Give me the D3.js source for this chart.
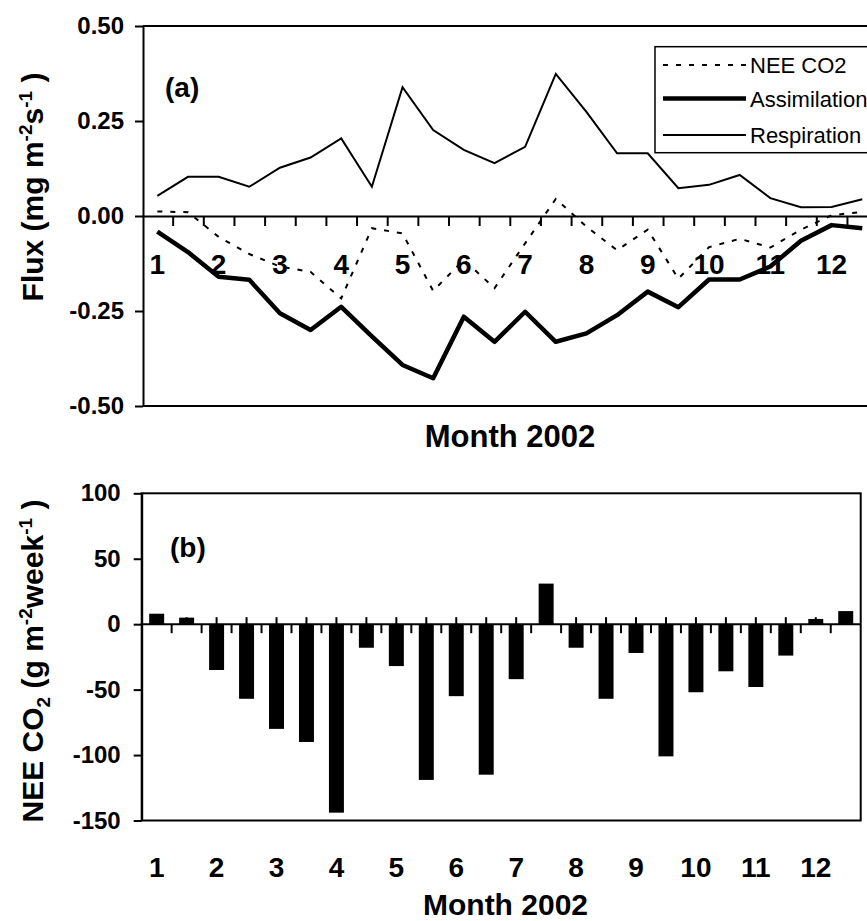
<!DOCTYPE html>
<html><head><meta charset="utf-8">
<script src="https://cdn.jsdelivr.net/npm/d3@7"></script>
<style>
body{margin:0;background:#fff}
svg{display:block}
text{font-family:"Liberation Sans",Arial,Helvetica,sans-serif;fill:#000}
</style>
</head><body>
<svg id="c" width="867" height="921"></svg>
<script>
// ---- data (half-month steps, Jan 2002 .. Dec 2002) ----
const monthLabels = ["1","2","3","4","5","6","7","8","9","10","11","12"];
const respiration = [0.053,0.103,0.103,0.077,0.127,0.154,0.204,0.077,0.339,0.226,0.174,0.139,0.182,0.374,0.274,0.165,0.165,0.073,0.082,0.108,0.047,0.023,0.024,0.044];
const assimilation = [-0.041,-0.095,-0.160,-0.168,-0.256,-0.300,-0.239,-0.317,-0.392,-0.427,-0.265,-0.331,-0.252,-0.331,-0.309,-0.261,-0.199,-0.240,-0.167,-0.167,-0.133,-0.065,-0.024,-0.032];
const neeFlux = [0.012,0.010,-0.055,-0.100,-0.133,-0.147,-0.217,-0.032,-0.046,-0.197,-0.115,-0.190,-0.072,0.045,-0.028,-0.090,-0.036,-0.165,-0.082,-0.060,-0.083,-0.036,0.002,0.011];
const weeklyNEE = [8,5,-35,-57,-80,-90,-144,-18,-32,-119,-55,-115,-42,31,-18,-57,-22,-101,-52,-36,-48,-24,4,10];
const yTicksA = [-0.5,-0.25,0,0.25,0.5];
const yTicksB = [-150,-100,-50,0,50,100];
const legendItems = ["NEE CO2","Assimilation","Respiration"];

const svg = d3.select("#c");
const F = "bold";

// ================= Panel (a) =================
const nA = respiration.length;
const xA = d3.scaleLinear().domain([0, nA]).range([142, 877.6]);
const yA = d3.scaleLinear().domain([-0.5, 0.5]).range([406, 26]);
const gA = svg.append("g");

// frame lines top/bottom
[0.5, -0.5].forEach(v => gA.append("line").attr("x1",143).attr("x2",870)
  .attr("y1",yA(v)).attr("y2",yA(v)).attr("stroke","#000").attr("stroke-width",2));

// y axis
const ayA = gA.append("g").attr("transform","translate(143,0)")
  .call(d3.axisLeft(yA).tickValues(yTicksA).tickSize(8).tickSizeOuter(0).tickPadding(11)
    .tickFormat(d => d3.format(".2f")(d).replace("−","-")));
ayA.selectAll("path,line").attr("stroke","#000").attr("stroke-width",2);
ayA.selectAll("text").attr("font-size",24).attr("font-weight",F)
  .attr("font-family",'"Liberation Sans",Arial,sans-serif');

// zero axis with half-month ticks
const axA = gA.append("g").attr("transform",`translate(0,${yA(0)})`)
  .call(d3.axisBottom(xA).tickValues(d3.range(1, nA)).tickSize(10).tickSizeOuter(0).tickFormat(""));
axA.selectAll("path,line").attr("stroke","#000").attr("stroke-width",2);

// month labels inside plot
gA.selectAll("text.ml").data(monthLabels).enter().append("text").attr("class","ml")
  .attr("x",(d,i)=>xA(2*i+0.5)).attr("y",274).attr("text-anchor","middle")
  .attr("font-size",28).attr("font-weight",F).text(d=>d);

const lineA = d3.line().x((d,i)=>xA(i+0.5)).y(d=>yA(d));
gA.append("path").datum(respiration).attr("d",lineA).attr("fill","none")
  .attr("stroke","#000").attr("stroke-width",2);
gA.append("path").datum(neeFlux).attr("d",lineA).attr("fill","none")
  .attr("stroke","#000").attr("stroke-width",2).attr("stroke-dasharray","5,8");
gA.append("path").datum(assimilation).attr("d",lineA).attr("fill","none")
  .attr("stroke","#000").attr("stroke-width",4.5).attr("stroke-linejoin","round");

// (a) label
gA.append("text").attr("x",165).attr("y",97).attr("font-size",28).attr("font-weight",F).text("(a)");

// legend
const lg = gA.append("g");
lg.append("rect").attr("x",655).attr("y",46.7).attr("width",240).attr("height",106)
  .attr("fill","#fff").attr("stroke","#000").attr("stroke-width",1.5);
const legStyles = [{w:2,dash:"5,8"},{w:4.5,dash:null},{w:2,dash:null}];
const legY = [65,98.5,135];
legendItems.forEach((t,i)=>{
  lg.append("line").attr("x1",663).attr("x2",746).attr("y1",legY[i]).attr("y2",legY[i])
    .attr("stroke","#000").attr("stroke-width",legStyles[i].w)
    .attr("stroke-dasharray",legStyles[i].dash);
  lg.append("text").attr("x",750).attr("y",legY[i]+8).attr("font-size",22).text(t);
});

// axis titles (a)
const tA = gA.append("text").attr("transform","translate(43,187) rotate(-90)")
  .attr("text-anchor","middle").attr("font-size",30).attr("font-weight",F);
tA.append("tspan").text("Flux (mg m");
tA.append("tspan").attr("font-size",19).attr("dy",-11).text("-2");
tA.append("tspan").attr("dy",11).text("s");
tA.append("tspan").attr("font-size",19).attr("dy",-11).text("-1");
tA.append("tspan").attr("dy",11).text(" )");
gA.append("text").attr("x",510).attr("y",447).attr("text-anchor","middle")
  .attr("font-size",31).attr("font-weight",F).text("Month 2002");

// ================= Panel (b) =================
const nB = weeklyNEE.length;
const xB = d3.scaleBand().domain(d3.range(nB)).range([141.7, 860.7]).paddingInner(0.5).paddingOuter(0.25);
const yB = d3.scaleLinear().domain([-150, 100]).range([820.5, 493.3]);
const step = xB.step();
const gB = svg.append("g");

gB.append("rect").attr("x",141.7).attr("y",493.3).attr("width",719).attr("height",327.2)
  .attr("fill","none").attr("stroke","#000").attr("stroke-width",2);

const ayB = gB.append("g").attr("transform","translate(141.7,0)")
  .call(d3.axisLeft(yB).tickValues(yTicksB).tickSize(8).tickSizeOuter(0).tickPadding(13)
    .tickFormat(d => String(d)));
ayB.selectAll("path,line").attr("stroke","#000").attr("stroke-width",2);
ayB.selectAll("text").attr("font-size",24).attr("font-weight",F)
  .attr("font-family",'"Liberation Sans",Arial,sans-serif');

// zero line + boundary ticks
const y0 = yB(0);
gB.append("line").attr("x1",141.7).attr("x2",860.7).attr("y1",y0).attr("y2",y0)
  .attr("stroke","#000").attr("stroke-width",2);
gB.selectAll("line.bt").data(d3.range(1,nB)).enter().append("line").attr("class","bt")
  .attr("x1",k=>xB(k)-step*0.25).attr("x2",k=>xB(k)-step*0.25)
  .attr("y1",y0).attr("y2",y0+9).attr("stroke","#000").attr("stroke-width",2);
gB.selectAll("line.ct").data(d3.range(nB)).enter().append("line").attr("class","ct")
  .attr("x1",i=>xB(i)+xB.bandwidth()/2).attr("x2",i=>xB(i)+xB.bandwidth()/2)
  .attr("y1",y0).attr("y2",y0-7).attr("stroke","#000").attr("stroke-width",2);

// bars
gB.selectAll("rect.bar").data(weeklyNEE).enter().append("rect").attr("class","bar")
  .attr("x",(d,i)=>xB(i)).attr("width",xB.bandwidth())
  .attr("y",d=>yB(Math.max(0,d))).attr("height",d=>Math.abs(yB(d)-yB(0)))
  .attr("fill","#000");

// (b) label
gB.append("text").attr("x",170).attr("y",557).attr("font-size",28).attr("font-weight",F).text("(b)");

// month labels
gB.selectAll("text.ml").data(monthLabels).enter().append("text").attr("class","ml")
  .attr("x",(d,i)=>xB(2*i)+xB.bandwidth()/2).attr("y",877).attr("text-anchor","middle")
  .attr("font-size",28).attr("font-weight",F).text(d=>d);

gB.append("text").attr("x",505.5).attr("y",915).attr("text-anchor","middle")
  .attr("font-size",30).attr("font-weight",F).text("Month 2002");

const tB = gB.append("text").attr("transform","translate(43,661) rotate(-90)")
  .attr("text-anchor","middle").attr("font-size",30).attr("font-weight",F);
tB.append("tspan").text("NEE CO");
tB.append("tspan").attr("font-size",19).attr("dy",7).text("2");
tB.append("tspan").attr("dy",-7).text(" (g m");
tB.append("tspan").attr("font-size",19).attr("dy",-11).text("-2");
tB.append("tspan").attr("dy",11).text("week");
tB.append("tspan").attr("font-size",19).attr("dy",-11).text("-1");
tB.append("tspan").attr("dy",11).text(" )");
</script>
</body></html>
